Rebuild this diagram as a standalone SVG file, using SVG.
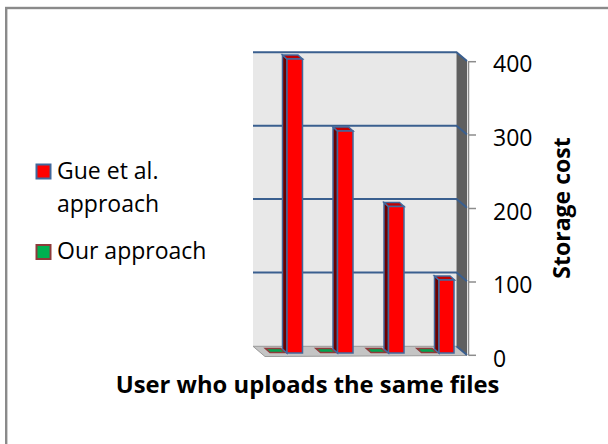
<svg xmlns="http://www.w3.org/2000/svg" width="608" height="444" viewBox="0 0 608 444">
<style>
.t{font-family:"Open Sans","Liberation Sans",sans-serif;font-size:23px;fill:#000}
.b{font-family:"Open Sans","Liberation Sans",sans-serif;font-size:23px;font-weight:bold;fill:#000}
.grid{stroke:#3a5f8f;stroke-width:2;fill:none}
.front{fill:#ff0000;stroke:#41689c;stroke-width:1.5}
.side{fill:#6b0000;stroke:#41689c;stroke-width:1.5}
.top{fill:#c00000;stroke:#41689c;stroke-width:1.5}
.g{fill:#00a550;stroke:#8e3a3a;stroke-width:1.6}
.tick{stroke:#8c8c8c;stroke-width:1.5}
</style>
<rect width="608" height="444" fill="#fff"/>
<rect id="frame" x="6.2" y="8" width="640" height="480" fill="none" stroke="#8a8a8a" stroke-width="2.4"/>
<g id="plot">
  <rect x="253" y="52.3" width="203.5" height="294" fill="#e8e8e8"/>
  <polygon points="456.5,52.3 467,61 467,355 456.5,346.3" fill="#5f5f5f"/>
  <polygon points="253,346.3 456.5,346.3 467,355.5 265,356.5" fill="#c4c4c4" stroke="#9a9a9a" stroke-width="1"/>
  <g class="grid">
    <path d="M253,52.3H456.5L467,61"/>
    <path d="M253,125.7H456.5L467,134.4"/>
    <path d="M253,199H456.5L467,207.7"/>
    <path d="M253,272.5H456.5L467,281.2"/>
    <path d="M456.5,346.3L467,355" />
  </g>
</g>
<g id="series-our">
  <polygon class="g" points="265.5,348.5 280.5,348.5 285,352.5 270,352.5"/>
  <polygon class="g" points="316,348.5 331,348.5 335.5,352.5 320.5,352.5"/>
  <polygon class="g" points="366.5,348.5 381.5,348.5 386,352.5 371,352.5"/>
  <polygon class="g" points="417,348.5 432,348.5 436.5,352.5 421.5,352.5"/>
</g>
<g id="series-gue">
  <g id="bar1">
    <polygon class="side" points="282.5,55 287,59 287,353 282.5,349"/>
    <polygon class="top" points="282.5,55 298,55 302.5,59 287,59"/>
    <rect class="front" x="287" y="59" width="15.5" height="294"/>
  </g>
  <g id="bar2">
    <polygon class="side" points="333,127 337.5,131 337.5,353 333,349"/>
    <polygon class="top" points="333,127 348.5,127 353,131 337.5,131"/>
    <rect class="front" x="337.5" y="131" width="15.5" height="222"/>
  </g>
  <g id="bar3">
    <polygon class="side" points="384,202.5 388.5,206.5 388.5,353 384,349"/>
    <polygon class="top" points="384,202.5 399.5,202.5 404,206.5 388.5,206.5"/>
    <rect class="front" x="388.5" y="206.5" width="15.5" height="146.5"/>
  </g>
  <g id="bar4">
    <polygon class="side" points="434.5,276 439,280 439,353 434.5,349"/>
    <polygon class="top" points="434.5,276 450,276 454.5,280 439,280"/>
    <rect class="front" x="439" y="280" width="15" height="73"/>
  </g>
</g>
<g id="axis">
  <line class="tick" x1="468.5" y1="61" x2="468.5" y2="355.5"/>
  <line class="tick" x1="468.5" y1="61.7" x2="476" y2="61.7"/>
  <line class="tick" x1="468.5" y1="135" x2="476" y2="135"/>
  <line class="tick" x1="468.5" y1="208.5" x2="476" y2="208.5"/>
  <line class="tick" x1="468.5" y1="282" x2="476" y2="282"/>
  <line class="tick" x1="468.5" y1="355.3" x2="476" y2="355.3"/>
  <text class="t" x="493" y="71.5">400</text>
  <text class="t" x="493" y="145.5">300</text>
  <text class="t" x="493" y="219.5">200</text>
  <text class="t" x="493" y="293">100</text>
  <text class="t" x="493" y="366.5">0</text>
  <text class="b" transform="translate(570,208) rotate(-90)" text-anchor="middle">Storage cost</text>
  <text class="b" x="307.5" y="393" text-anchor="middle" style="font-size:23.8px">User who uploads the same files</text>
</g>
<g id="legend">
  <rect x="36.5" y="164.5" width="14" height="14" fill="#ff0000" stroke="#41689c" stroke-width="2"/>
  <text class="t" x="57" y="179">Gue et al.</text>
  <text class="t" x="57" y="212">approach</text>
  <rect x="36.5" y="245" width="14" height="14" fill="#00b050" stroke="#8e3a3a" stroke-width="2"/>
  <text class="t" x="57" y="259">Our approach</text>
</g>
</svg>
